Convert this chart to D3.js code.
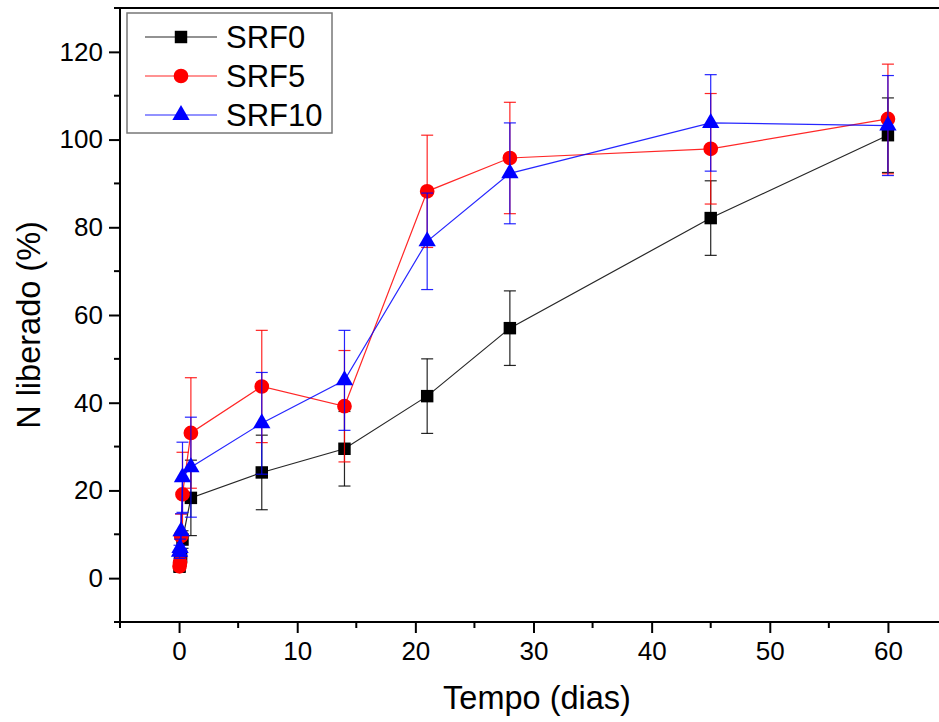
<!DOCTYPE html>
<html>
<head>
<meta charset="utf-8"/>
<title>N liberado</title>
<script src="https://d3js.org/d3.v7.min.js"></script>
<style>
body { margin:0; background:#fff; }
text { font-family: "Liberation Sans", Arial, sans-serif; fill:#000; }
</style>
</head>
<body>
<div id="chart"></div>
<script>

// tempo (dias) - the first points are hours into day 0
var tempo = [0.04, 0.08, 0.17, 0.29, 1, 7, 14, 21, 28, 45, 60];

var srf0  = [2.6, 4.0, 5.0, 8.8, 18.3, 24.1, 29.5, 41.5, 57.0, 82.1, 101.0];
var srf0e = [1.0, 1.2, 1.5, 2.0, 8.6, 8.5, 8.5, 8.5, 8.5, 8.5, 8.5];

var srf5  = [2.7, 3.5, 9.6, 19.1, 33.1, 43.7, 39.2, 88.2, 95.8, 97.9, 104.7];
var srf5e = [0.8, 1.0, 5.0, 9.6, 12.6, 12.8, 12.7, 12.8, 12.7, 12.6, 12.5];

var srf10  = [6.0, 6.9, 10.7, 23.0, 25.3, 35.3, 45.1, 76.8, 92.3, 103.8, 103.2];
var srf10e = [1.5, 2.0, 4.0, 8.0, 11.4, 11.6, 11.4, 11.0, 11.5, 11.0, 11.4];

var seriesNames = ["SRF0", "SRF5", "SRF10"];
var xTicks = [0, 10, 20, 30, 40, 50, 60];
var yTicks = [0, 20, 40, 60, 80, 100, 120];

var W = 939, H = 722;
var margin = {top: 8, left: 120, bottom: 100, right: -8};

var x = d3.scaleLinear().domain([-5, 65]).range([margin.left, W - margin.right]);
var y = d3.scaleLinear().domain([-10, 130]).range([H - margin.bottom, margin.top]);

var svg = d3.select("#chart").append("svg").attr("width", W).attr("height", H);

var series = [
  {name: seriesNames[0], vals: srf0, err: srf0e, color: "#000000", sym: d3.symbolSquare, size: 155},
  {name: seriesNames[1], vals: srf5, err: srf5e, color: "#ff0000", sym: d3.symbolCircle, size: 170},
  {name: seriesNames[2], vals: srf10, err: srf10e, color: "#0000ff", sym: d3.symbolTriangle, size: 130}
];

// frame (right side falls outside the picture)
svg.append("rect")
  .attr("x", x(-5)).attr("y", y(130))
  .attr("width", x(65) - x(-5)).attr("height", y(-10) - y(130))
  .style("fill", "none").style("stroke", "#000").style("stroke-width", 2);

// x axis
var xMinor = d3.range(-5, 66, 10);
var gx = svg.append("g").attr("transform", "translate(0," + y(-10) + ")");
gx.call(d3.axisBottom(x).tickValues(xTicks).tickSize(11).tickPadding(9).tickFormat(d3.format("d")));
gx.selectAll(".minor").data(xMinor).enter().append("line").attr("class", "minor")
  .attr("x1", function(d) { return x(d); }).attr("x2", function(d) { return x(d); })
  .attr("y1", 0).attr("y2", 6);

// y axis
var yMinor = d3.range(-10, 131, 20);
var gy = svg.append("g").attr("transform", "translate(" + x(-5) + ",0)");
gy.call(d3.axisLeft(y).tickValues(yTicks).tickSize(11).tickPadding(6).tickFormat(d3.format("d")));
gy.selectAll(".minor").data(yMinor).enter().append("line").attr("class", "minor")
  .attr("y1", function(d) { return y(d); }).attr("y2", function(d) { return y(d); })
  .attr("x1", 0).attr("x2", -6);

svg.selectAll(".domain").remove();
svg.selectAll(".tick line, .minor").style("stroke", "#000").style("stroke-width", 2);
svg.selectAll(".tick text").style("font-size", "26px").style("font-family", "'Liberation Sans', Arial, sans-serif");

// titles
svg.append("text").attr("x", 537).attr("y", 709)
  .attr("text-anchor", "middle").style("font-size", "32.5px").text("Tempo (dias)");
svg.append("text").attr("transform", "translate(40,325) rotate(-90)")
  .attr("text-anchor", "middle").style("font-size", "32.5px").text("N liberado (%)");

var line = d3.line()
  .x(function(d, i) { return x(tempo[i]); })
  .y(function(d) { return y(d); });

series.forEach(function(s) {
  var g = svg.append("g");

  g.append("path").datum(s.vals).attr("d", line)
    .style("fill", "none").style("stroke", s.color).style("stroke-width", 1.2).style("opacity", 0.85);

  var eb = g.selectAll(".eb").data(s.vals).enter().append("g");
  eb.append("line")
    .attr("x1", function(d, i) { return x(tempo[i]); }).attr("x2", function(d, i) { return x(tempo[i]); })
    .attr("y1", function(d, i) { return y(d - s.err[i]); }).attr("y2", function(d, i) { return y(d + s.err[i]); });
  eb.append("line")
    .attr("x1", function(d, i) { return x(tempo[i]) - 6; }).attr("x2", function(d, i) { return x(tempo[i]) + 6; })
    .attr("y1", function(d, i) { return y(d + s.err[i]); }).attr("y2", function(d, i) { return y(d + s.err[i]); });
  eb.append("line")
    .attr("x1", function(d, i) { return x(tempo[i]) - 6; }).attr("x2", function(d, i) { return x(tempo[i]) + 6; })
    .attr("y1", function(d, i) { return y(d - s.err[i]); }).attr("y2", function(d, i) { return y(d - s.err[i]); });
  eb.selectAll("line").style("stroke", s.color).style("stroke-width", 1.2).style("opacity", 0.85);

  g.selectAll(".pt").data(s.vals).enter().append("path")
    .attr("d", d3.symbol().type(s.sym).size(s.size))
    .attr("transform", function(d, i) { return "translate(" + x(tempo[i]) + "," + y(d) + ")"; })
    .style("fill", s.color);
});

// legend
var leg = svg.append("g");
leg.append("rect").attr("x", 127).attr("y", 13).attr("width", 205).attr("height", 120)
  .style("fill", "#fff").style("stroke", "#777").style("stroke-width", 1.5);

series.forEach(function(s, i) {
  var ly = 37 + i * 39;
  leg.append("line").attr("x1", 145).attr("x2", 217).attr("y1", ly).attr("y2", ly)
    .style("stroke", s.color).style("stroke-width", 1.2).style("opacity", 0.85);
  leg.append("path").attr("d", d3.symbol().type(s.sym).size(s.size))
    .attr("transform", "translate(181," + ly + ")").style("fill", s.color);
  leg.append("text").attr("x", 226).attr("y", ly + 11).style("font-size", "31px").text(s.name);
});

</script>
</body>
</html>
